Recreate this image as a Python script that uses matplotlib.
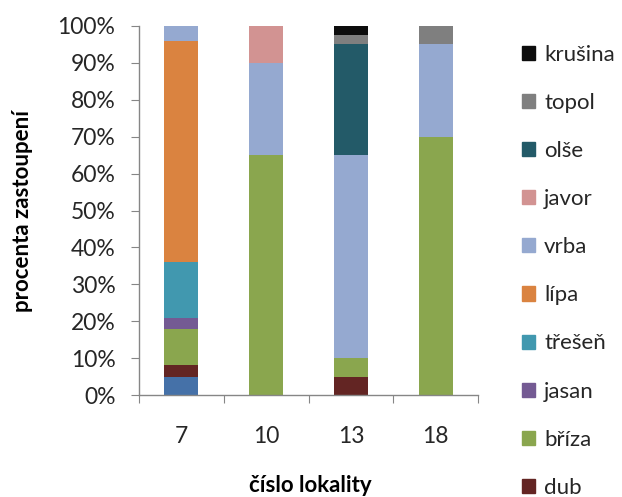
import numpy as np
import matplotlib.pyplot as plt
from matplotlib.patches import Patch

plt.rcParams['font.family'] = ['Lato', 'DejaVu Sans']

lokality = ['7', '10', '13', '18']

# podil druhu na kazde lokalite (%), odspodu nahoru
druhy = ['', 'dub', 'bříza', 'jasan', 'třešeň', 'lípa', 'vrba', 'javor', 'olše', 'topol', 'krušina']
ostatni = [5, 0, 0, 0]
dub = [3, 0, 5, 0]
briza = [10, 65, 5, 70]
jasan = [3, 0, 0, 0]
tresen = [15, 0, 0, 0]
lipa = [60, 0, 0, 0]
vrba = [4, 25, 55, 25]
javor = [0, 10, 0, 0]
olse = [0, 0, 30, 0]
topol = [0, 0, 2.5, 5]
krusina = [0, 0, 2.5, 0]

barvy = ['#4571A8', '#632523', '#8AA64E', '#745A93', '#4198AF', '#DA8340',
         '#95A9D0', '#D29392', '#235A68', '#7F7F7F', '#0D0D0D']

data = np.array([ostatni, dub, briza, jasan, tresen, lipa, vrba, javor, olse, topol, krusina], dtype=float)
podil = data / data.sum(axis=0)

fig = plt.figure(figsize=(6.22, 4.97), dpi=100)
ax = fig.add_axes([0.2235, 0.2052, 0.545, 0.7425])

x = np.arange(len(lokality))
spod = np.zeros(len(lokality))
for i in range(len(druhy)):
    ax.bar(x, podil[i], 0.4, bottom=spod, color=barvy[i], linewidth=0)
    spod += podil[i]

ax.set_xlim(-0.5, 3.5)
ax.set_ylim(0, 1)

ax.set_yticks(np.arange(0, 1.01, 0.1))
ax.set_yticklabels(['%d%%' % v for v in range(0, 101, 10)])
ax.set_xticks(np.arange(-0.5, 3.6, 1))
ax.set_xticklabels([])
ax.set_xticks(x, minor=True)
ax.set_xticklabels(lokality, minor=True)

for s in ['top', 'right']:
    ax.spines[s].set_visible(False)
for s in ['left', 'bottom']:
    ax.spines[s].set_color('#868686')
    ax.spines[s].set_linewidth(1)

ax.tick_params(axis='y', direction='out', length=6, color='#868686', labelsize=16.5, pad=11, labelcolor='#262626')
ax.tick_params(axis='x', which='major', direction='out', length=6, color='#868686')
ax.tick_params(axis='x', which='minor', length=0, labelsize=16.5, pad=22, labelcolor='#262626')

ax.set_ylabel('procenta zastoupení', fontsize=16, fontweight='bold')
ax.yaxis.set_label_coords(-0.312, 0.5)
ax.set_xlabel('číslo lokality', fontsize=16, fontweight='bold')
ax.xaxis.set_label_coords(0.504, -0.218)

# legenda od nejvyssi vrstvy
handles = [Patch(color=barvy[i]) for i in range(len(druhy) - 1, 0, -1)]
labels = [druhy[i] for i in range(len(druhy) - 1, 0, -1)]
fig.legend(handles, labels, loc='upper left', bbox_to_anchor=(0.839, 0.91),
           frameon=False, fontsize=16, labelspacing=1.265, handlelength=0.6,
           handleheight=0.6, handletextpad=0.4, borderpad=0, borderaxespad=0,
           labelcolor='#262626')

fig.savefig('out.png', dpi=100)
